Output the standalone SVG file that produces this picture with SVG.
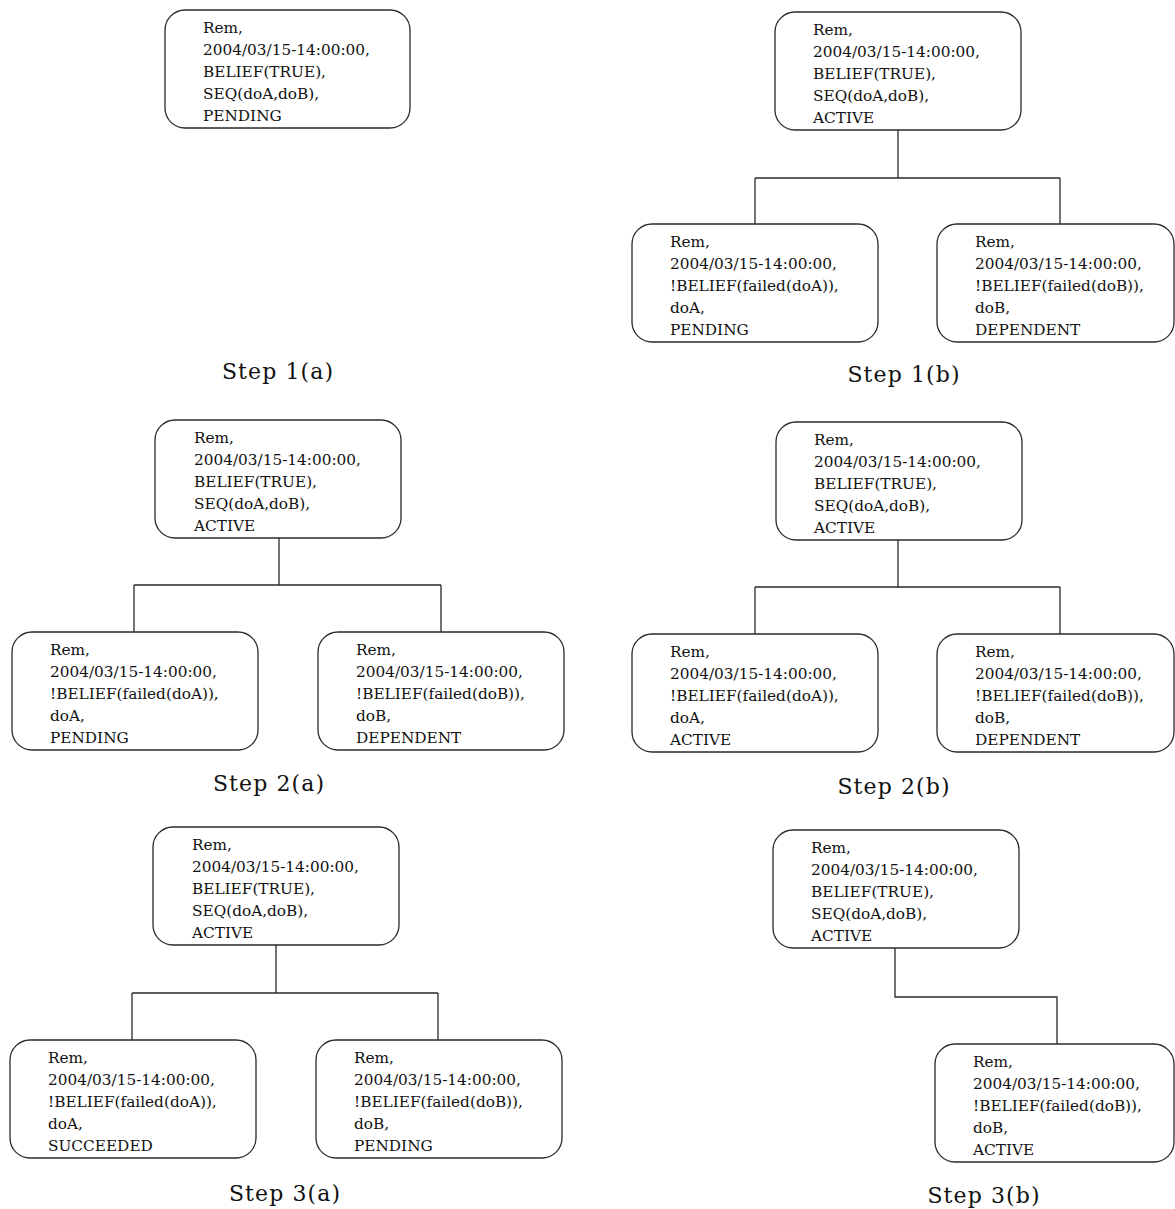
<svg xmlns="http://www.w3.org/2000/svg" width="1175" height="1209" viewBox="0 0 1175 1209">
  <style>
    .box { fill: #ffffff; stroke: #2a2a2a; stroke-width: 1.3; }
    .wire { fill: none; stroke: #2a2a2a; stroke-width: 1.3; }
    .t { font-family: "DejaVu Serif", "Liberation Serif", serif; font-size: 15.3px; fill: #111; }
    .cap { font-family: "DejaVu Serif", "Liberation Serif", serif; font-size: 22px; fill: #111; letter-spacing: 1.1px; text-anchor: middle; }
  </style>
  <rect width="1175" height="1209" fill="#ffffff"/>

  <!-- tree connectors -->
  <g id="connectors">
    <path class="wire" d="M898,130 V178 M755,178 H1060 M755,178 V224 M1060,178 V224"/>
    <path class="wire" d="M279,538 V585 M134,585 H441 M134,585 V632 M441,585 V632"/>
    <path class="wire" d="M898,540 V587 M755,587 H1060 M755,587 V634 M1060,587 V634"/>
    <path class="wire" d="M276,945 V993 M132,993 H438 M132,993 V1040 M438,993 V1040"/>
    <path class="wire" d="M895,948 V997 H1057 V1044"/>
  </g>

  <!-- Step 1(a) -->
  <g id="s1a-root">
    <rect class="box" x="165" y="10" width="245" height="118" rx="20"/>
    <text class="t" x="203" y="33">Rem,</text>
    <text class="t" x="203" y="55">2004/03/15-14:00:00,</text>
    <text class="t" x="203" y="77">BELIEF(TRUE),</text>
    <text class="t" x="203" y="99">SEQ(doA,doB),</text>
    <text class="t" x="203" y="121">PENDING</text>
  </g>
  <text id="s1a-label" class="cap" x="278" y="379">Step 1(a)</text>

  <!-- Step 1(b) -->
  <g id="s1b-root">
    <rect class="box" x="775" y="12" width="246" height="118" rx="20"/>
    <text class="t" x="813" y="35">Rem,</text>
    <text class="t" x="813" y="57">2004/03/15-14:00:00,</text>
    <text class="t" x="813" y="79">BELIEF(TRUE),</text>
    <text class="t" x="813" y="101">SEQ(doA,doB),</text>
    <text class="t" x="813" y="123">ACTIVE</text>
  </g>
  <g id="s1b-doA">
    <rect class="box" x="632" y="224" width="246" height="118" rx="20"/>
    <text class="t" x="670" y="247">Rem,</text>
    <text class="t" x="670" y="269">2004/03/15-14:00:00,</text>
    <text class="t" x="670" y="291">!BELIEF(failed(doA)),</text>
    <text class="t" x="670" y="313">doA,</text>
    <text class="t" x="670" y="335">PENDING</text>
  </g>
  <g id="s1b-doB">
    <rect class="box" x="937" y="224" width="237" height="118" rx="20"/>
    <text class="t" x="975" y="247">Rem,</text>
    <text class="t" x="975" y="269">2004/03/15-14:00:00,</text>
    <text class="t" x="975" y="291">!BELIEF(failed(doB)),</text>
    <text class="t" x="975" y="313">doB,</text>
    <text class="t" x="975" y="335">DEPENDENT</text>
  </g>
  <text id="s1b-label" class="cap" x="904" y="382">Step 1(b)</text>

  <!-- Step 2(a) -->
  <g id="s2a-root">
    <rect class="box" x="155" y="420" width="246" height="118" rx="20"/>
    <text class="t" x="194" y="443">Rem,</text>
    <text class="t" x="194" y="465">2004/03/15-14:00:00,</text>
    <text class="t" x="194" y="487">BELIEF(TRUE),</text>
    <text class="t" x="194" y="509">SEQ(doA,doB),</text>
    <text class="t" x="194" y="531">ACTIVE</text>
  </g>
  <g id="s2a-doA">
    <rect class="box" x="12" y="632" width="246" height="118" rx="20"/>
    <text class="t" x="50" y="655">Rem,</text>
    <text class="t" x="50" y="677">2004/03/15-14:00:00,</text>
    <text class="t" x="50" y="699">!BELIEF(failed(doA)),</text>
    <text class="t" x="50" y="721">doA,</text>
    <text class="t" x="50" y="743">PENDING</text>
  </g>
  <g id="s2a-doB">
    <rect class="box" x="318" y="632" width="246" height="118" rx="20"/>
    <text class="t" x="356" y="655">Rem,</text>
    <text class="t" x="356" y="677">2004/03/15-14:00:00,</text>
    <text class="t" x="356" y="699">!BELIEF(failed(doB)),</text>
    <text class="t" x="356" y="721">doB,</text>
    <text class="t" x="356" y="743">DEPENDENT</text>
  </g>
  <text id="s2a-label" class="cap" x="269" y="791">Step 2(a)</text>

  <!-- Step 2(b) -->
  <g id="s2b-root">
    <rect class="box" x="776" y="422" width="246" height="118" rx="20"/>
    <text class="t" x="814" y="445">Rem,</text>
    <text class="t" x="814" y="467">2004/03/15-14:00:00,</text>
    <text class="t" x="814" y="489">BELIEF(TRUE),</text>
    <text class="t" x="814" y="511">SEQ(doA,doB),</text>
    <text class="t" x="814" y="533">ACTIVE</text>
  </g>
  <g id="s2b-doA">
    <rect class="box" x="632" y="634" width="246" height="118" rx="20"/>
    <text class="t" x="670" y="657">Rem,</text>
    <text class="t" x="670" y="679">2004/03/15-14:00:00,</text>
    <text class="t" x="670" y="701">!BELIEF(failed(doA)),</text>
    <text class="t" x="670" y="723">doA,</text>
    <text class="t" x="670" y="745">ACTIVE</text>
  </g>
  <g id="s2b-doB">
    <rect class="box" x="937" y="634" width="237" height="118" rx="20"/>
    <text class="t" x="975" y="657">Rem,</text>
    <text class="t" x="975" y="679">2004/03/15-14:00:00,</text>
    <text class="t" x="975" y="701">!BELIEF(failed(doB)),</text>
    <text class="t" x="975" y="723">doB,</text>
    <text class="t" x="975" y="745">DEPENDENT</text>
  </g>
  <text id="s2b-label" class="cap" x="894" y="794">Step 2(b)</text>

  <!-- Step 3(a) -->
  <g id="s3a-root">
    <rect class="box" x="153" y="827" width="246" height="118" rx="20"/>
    <text class="t" x="192" y="850">Rem,</text>
    <text class="t" x="192" y="872">2004/03/15-14:00:00,</text>
    <text class="t" x="192" y="894">BELIEF(TRUE),</text>
    <text class="t" x="192" y="916">SEQ(doA,doB),</text>
    <text class="t" x="192" y="938">ACTIVE</text>
  </g>
  <g id="s3a-doA">
    <rect class="box" x="10" y="1040" width="246" height="118" rx="20"/>
    <text class="t" x="48" y="1063">Rem,</text>
    <text class="t" x="48" y="1085">2004/03/15-14:00:00,</text>
    <text class="t" x="48" y="1107">!BELIEF(failed(doA)),</text>
    <text class="t" x="48" y="1129">doA,</text>
    <text class="t" x="48" y="1151">SUCCEEDED</text>
  </g>
  <g id="s3a-doB">
    <rect class="box" x="316" y="1040" width="246" height="118" rx="20"/>
    <text class="t" x="354" y="1063">Rem,</text>
    <text class="t" x="354" y="1085">2004/03/15-14:00:00,</text>
    <text class="t" x="354" y="1107">!BELIEF(failed(doB)),</text>
    <text class="t" x="354" y="1129">doB,</text>
    <text class="t" x="354" y="1151">PENDING</text>
  </g>
  <text id="s3a-label" class="cap" x="285" y="1201">Step 3(a)</text>

  <!-- Step 3(b) -->
  <g id="s3b-root">
    <rect class="box" x="773" y="830" width="246" height="118" rx="20"/>
    <text class="t" x="811" y="853">Rem,</text>
    <text class="t" x="811" y="875">2004/03/15-14:00:00,</text>
    <text class="t" x="811" y="897">BELIEF(TRUE),</text>
    <text class="t" x="811" y="919">SEQ(doA,doB),</text>
    <text class="t" x="811" y="941">ACTIVE</text>
  </g>
  <g id="s3b-doB">
    <rect class="box" x="935" y="1044" width="239" height="118" rx="20"/>
    <text class="t" x="973" y="1067">Rem,</text>
    <text class="t" x="973" y="1089">2004/03/15-14:00:00,</text>
    <text class="t" x="973" y="1111">!BELIEF(failed(doB)),</text>
    <text class="t" x="973" y="1133">doB,</text>
    <text class="t" x="973" y="1155">ACTIVE</text>
  </g>
  <text id="s3b-label" class="cap" x="984" y="1203">Step 3(b)</text>
</svg>
